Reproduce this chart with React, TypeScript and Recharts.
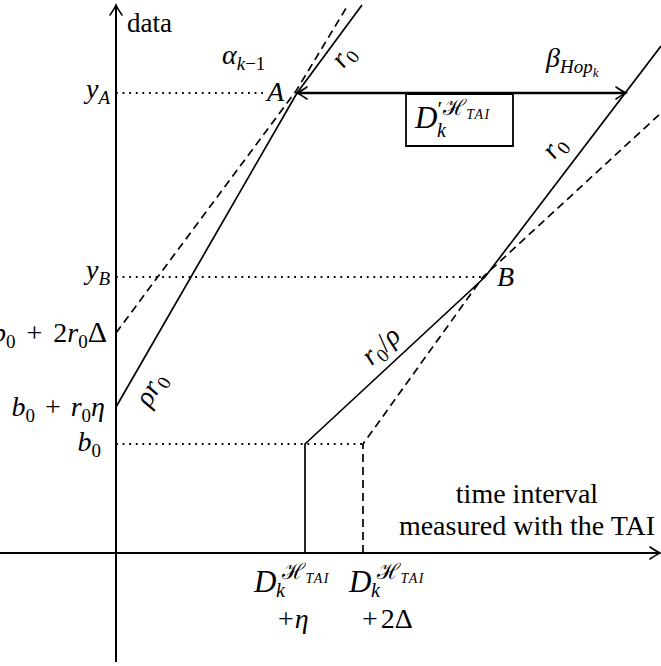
import React from 'react';
import { ComposedChart, Line, XAxis, YAxis, ReferenceLine, ReferenceDot, ReferenceArea } from 'recharts';

// curves, in "time" (t) and "data" (v) units, origin at the axes crossing
const arrivalCurve = [
  { t: 0, v: 14.6 },
  { t: 18.1, v: 46.0 },
  { t: 24.6, v: 54.8 },
];
const arrivalCurveShifted = [
  { t: 0, v: 22.0 },
  { t: 18.0, v: 46.2 },
  { t: 23.2, v: 54.8 },
];
const serviceCurve = [
  { t: 18.9, v: 0 },
  { t: 18.9, v: 10.9 },
  { t: 36.9, v: 27.6 },
  { t: 54.5, v: 50.7 },
];
const serviceCurveShifted = [
  { t: 24.7, v: 0 },
  { t: 24.7, v: 10.9 },
  { t: 36.7, v: 27.6 },
  { t: 54.5, v: 44.0 },
];

// levels on the data axis and points on the time axis
const yA = 46.0;
const yB = 27.6;
const b0 = 10.9;
const tA = 18.1;
const tB = 36.7;
const tBeta = 51.0;
const t2Delta = 24.7;

const X_DOMAIN = [-11.6, 54.5];
const Y_DOMAIN = [-11.3, 55.3];

const FONT = "'Liberation Serif', 'DejaVu Serif', serif";

type Piece = { s: string; i?: boolean; f?: number; b?: number; dx?: number; at?: number; ls?: number };

function MathText({ x, y, pieces, anchor = 'start', rot = 0, size = 28 }: any) {
  let prev = 0;
  const body = (
    <text
      x={rot ? 0 : x}
      y={rot ? 7 : y}
      textAnchor={anchor}
      fontFamily={FONT}
      fontSize={size}
      fill="#000"
    >
      {pieces.map((p: Piece, k: number) => {
        const shift = p.b ?? 0;
        const dy = shift - prev;
        prev = shift;
        return (
          <tspan
            key={k}
            x={p.at !== undefined ? (rot ? 0 : x) + p.at : undefined}
            dx={p.dx}
            dy={dy || undefined}
            fontSize={p.f ?? size}
            fontStyle={p.i ? 'italic' : 'normal'}
            letterSpacing={p.ls}
          >
            {p.s}
          </tspan>
        );
      })}
    </text>
  );
  if (!rot) return body;
  return <g transform={`translate(${x},${y}) rotate(${rot})`}>{body}</g>;
}

const sub = (s: string, italic = false): Piece => ({ s, i: italic, f: 19, b: 6 });
const dTai: Piece[] = [
  { s: 'D', i: true, f: 31 },
  { s: 'ℋ', f: 22, b: -13, dx: 6 },
  { s: 'TAI', i: true, f: 14, b: -9, ls: 1.5 },
  { s: 'k', i: true, f: 20, b: 5, at: 22 },
];

const labels = [
  { x: 1.1, y: 52.1, pieces: [{ s: 'data' }], size: 27 },
  { x: 10.6, y: 48.9, pieces: [{ s: 'α', i: true }, sub('k', true), { s: '−1', f: 19, b: 6 }] },
  { x: -0.6, y: 45.5, anchor: 'end', pieces: [{ s: 'y', i: true }, sub('A', true)] },
  { x: 15.1, y: 45.2, pieces: [{ s: 'A', i: true }] },
  { x: 22.8, y: 49.6, rot: -53, anchor: 'middle', pieces: [{ s: 'r', i: true }, sub('0')] },
  { x: 43.0, y: 48.6, pieces: [{ s: 'β', i: true }, sub('Hop', true), { s: 'k', i: true, f: 13, b: 10 }] },
  {
    x: 29.9,
    y: 42.5,
    pieces: [
      { s: 'D', i: true, f: 31 },
      { s: '′', f: 22, b: -12 },
      { s: 'ℋ', f: 22, b: -13, dx: 1 },
      { s: 'TAI', i: true, f: 14, b: -9, ls: 1.5 },
      { s: 'k', i: true, f: 20, b: 9, at: 22 },
    ],
  },
  { x: 43.9, y: 40.5, rot: -52, anchor: 'middle', pieces: [{ s: 'r', i: true }, sub('0')] },
  { x: -0.6, y: 27.4, anchor: 'end', pieces: [{ s: 'y', i: true }, sub('B', true)] },
  { x: 38.1, y: 26.7, pieces: [{ s: 'B', i: true }] },
  { x: 26.6, y: 20.6, rot: -43, anchor: 'middle', pieces: [{ s: 'r', i: true }, sub('0'), { s: '/' }, { s: 'ρ', i: true }] },
  {
    x: -0.9,
    y: 21.1,
    anchor: 'end',
    pieces: [{ s: 'b', i: true }, sub('0'), { s: '+', dx: 11 }, { s: '2', dx: 11 }, { s: 'r', i: true }, sub('0'), { s: 'Δ', f: 30 }],
  },
  { x: 3.6, y: 16.3, rot: -60, anchor: 'middle', pieces: [{ s: 'ρ', i: true }, { s: 'r', i: true }, sub('0')] },
  {
    x: -1.1,
    y: 13.7,
    anchor: 'end',
    pieces: [{ s: 'b', i: true }, sub('0'), { s: '+', dx: 10 }, { s: 'r', i: true, dx: 10 }, sub('0'), { s: 'η', i: true }],
  },
  { x: -1.5, y: 10.2, anchor: 'end', pieces: [{ s: 'b', i: true }, sub('0')] },
  { x: 41.1, y: 5.0, anchor: 'middle', pieces: [{ s: 'time interval' }] },
  { x: 41.1, y: 1.8, anchor: 'middle', pieces: [{ s: 'measured with the TAI' }] },
  { x: 13.8, y: -3.9, pieces: dTai },
  { x: 16.2, y: -7.5, pieces: [{ s: '+' }, { s: 'η', i: true, dx: 1 }] },
  { x: 23.3, y: -3.9, pieces: dTai },
  { x: 24.6, y: -7.5, pieces: [{ s: '+' }, { s: '2', dx: 3 }, { s: 'Δ' }] },
];

// LaTeX-like "to" arrow head drawn at (x, y) pointing along angle a
const head = (x: number, y: number, a: number, key: string) => {
  const L = 10;
  const w = 6;
  const ux = Math.cos(a), uy = Math.sin(a);
  const nx = -uy, ny = ux;
  const p1 = [x - L * ux + w * nx, y - L * uy + w * ny];
  const p2 = [x - L * ux - w * nx, y - L * uy - w * ny];
  const c1 = [x - 3 * ux + 1.2 * nx, y - 3 * uy + 1.2 * ny];
  const c2 = [x - 3 * ux - 1.2 * nx, y - 3 * uy - 1.2 * ny];
  return (
    <path
      key={key}
      d={`M${p1[0]},${p1[1]} Q${c1[0]},${c1[1]} ${x},${y} Q${c2[0]},${c2[1]} ${p2[0]},${p2[1]}`}
      fill="none"
      stroke="#000"
      strokeWidth={1.6}
      strokeLinecap="round"
    />
  );
};

const arrowShape = (both: boolean, width: number) => (p: any) => {
  const { x1, y1, x2, y2 } = p;
  const a = Math.atan2(y2 - y1, x2 - x1);
  return (
    <g>
      <line x1={x1} y1={y1} x2={x2} y2={y2} stroke="#000" strokeWidth={width} />
      {head(x2, y2, a, 'h2')}
      {both && head(x1, y1, a + Math.PI, 'h1')}
    </g>
  );
};

const dotted = { stroke: '#000', strokeWidth: 1.8, strokeDasharray: '1.8 4.8' };
const curveProps = {
  type: 'linear' as const,
  dataKey: 'v',
  stroke: '#000',
  strokeWidth: 1.7,
  dot: false,
  activeDot: false,
  legendType: 'none' as const,
  isAnimationActive: false,
};

export default function App() {
  return (
    <div style={{ position: 'absolute', left: 0, top: 0, width: 661, height: 666, background: '#fff' }}>
      <ComposedChart width={661} height={666} margin={{ top: 0, right: 0, bottom: 0, left: 0 }}>
        <XAxis type="number" dataKey="t" domain={X_DOMAIN} hide allowDataOverflow />
        <YAxis type="number" dataKey="v" domain={Y_DOMAIN} hide allowDataOverflow />

        <ReferenceLine segment={[{ x: 0, y: yA }, { x: 15.0, y: yA }]} ifOverflow="visible" {...dotted} />
        <ReferenceLine segment={[{ x: 0, y: yB }, { x: tB, y: yB }]} ifOverflow="visible" {...dotted} />
        <ReferenceLine segment={[{ x: 0, y: b0 }, { x: t2Delta, y: b0 }]} ifOverflow="visible" {...dotted} />

        <Line data={arrivalCurve} {...curveProps} />
        <Line data={arrivalCurveShifted} {...curveProps} strokeDasharray="8 5" />
        <Line data={serviceCurve} {...curveProps} />
        <Line data={serviceCurveShifted} {...curveProps} strokeDasharray="8 5" />

        {/* axes */}
        <ReferenceLine segment={[{ x: 0, y: -10.9 }, { x: 0, y: 54.8 }]} ifOverflow="visible" shape={arrowShape(false, 2)} />
        <ReferenceLine segment={[{ x: -11.6, y: 0 }, { x: 54.4, y: 0 }]} ifOverflow="visible" shape={arrowShape(false, 2)} />

        {/* horizontal deviation between A and the service curve */}
        <ReferenceLine segment={[{ x: tA, y: yA }, { x: tBeta, y: yA }]} ifOverflow="visible" shape={arrowShape(true, 2.6)} />
        <ReferenceArea x1={29.0} x2={39.7} y1={40.7} y2={45.9} fill="#fff" fillOpacity={1} stroke="#000" strokeWidth={1.8} ifOverflow="visible" />

        {labels.map((l, k) => (
          <ReferenceDot
            key={k}
            x={l.x}
            y={l.y}
            r={0}
            ifOverflow="visible"
            shape={(p: any) => <MathText x={p.cx} y={p.cy} pieces={l.pieces} anchor={l.anchor} rot={l.rot} size={l.size} />}
          />
        ))}
      </ComposedChart>
    </div>
  );
}
